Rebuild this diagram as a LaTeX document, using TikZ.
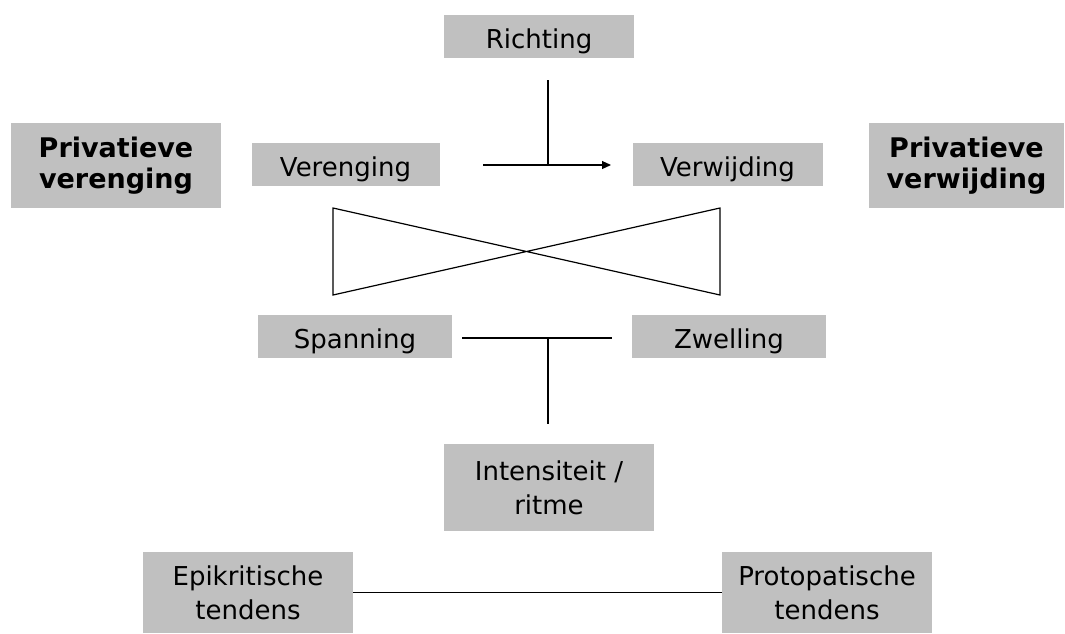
\documentclass[tikz,border=0pt]{standalone}
\usepackage{fontspec}
\setmainfont{DejaVu Sans}
\usetikzlibrary{arrows.meta}
% single-line labels sit a little below the box centre
\newcommand{\lowlabel}[1]{\raisebox{-5pt}[\height][\depth]{#1}}
\begin{document}
\begin{tikzpicture}[x=1pt,y=-1pt,
  greybox/.style={fill=boxgrey, draw=none, inner sep=0pt, align=center,
    font=\fontsize{26}{34}\selectfont},
  boldbox/.style={greybox, font=\fontsize{27}{31}\selectfont\bfseries},
  link/.style={line width=1.2pt, black}]
\definecolor{boxgrey}{HTML}{C0C0C0}
\useasboundingbox (0,0) rectangle (1065,633);

% category boxes
\node[greybox, minimum width=190pt, minimum height=43pt] (richting) at (539,36.5) {\lowlabel{Richting}};
\node[boldbox, minimum width=210pt, minimum height=85pt] (pvereng) at (116,165.5) {Privatieve\\verenging};
\node[greybox, minimum width=188pt, minimum height=43pt] (vereng) at (345.5,164.5) {\lowlabel{Verenging}};
\node[greybox, minimum width=190pt, minimum height=43pt] (verwijd) at (727.5,164.5) {\lowlabel{Verwijding}};
\node[boldbox, minimum width=195pt, minimum height=85pt] (pverwijd) at (966.5,165.5) {Privatieve\\verwijding};
\node[greybox, minimum width=194pt, minimum height=43pt] (spanning) at (355,336.5) {\lowlabel{Spanning}};
\node[greybox, minimum width=194pt, minimum height=43pt] (zwelling) at (729,336.5) {\lowlabel{Zwelling}};
\node[greybox, minimum width=210pt, minimum height=87pt] (intens) at (549,487.5) {Intensiteit /\\ritme};
\node[greybox, minimum width=210pt, minimum height=81pt] (epi) at (248,592.5) {Epikritische\\tendens};
\node[greybox, minimum width=210pt, minimum height=81pt] (proto) at (827,592.5) {Protopatische\\tendens};

% direction: T with arrow
\coordinate (rtop) at (548,80);
\coordinate (rfoot) at (548,165);
\coordinate (astart) at (483,165);
\coordinate (aend) at (611,165);
\draw[link] (rtop) -- (rfoot);
\draw[link, -{Triangle[length=9pt,width=8pt]}] (astart) -- (aend);

% bow tie between the two rows
\coordinate (bl) at (333,208);
\coordinate (br) at (720,295);
\coordinate (tl) at (333,295);
\coordinate (tr) at (720,208);
\draw[link, line join=miter] (bl) -- (br) -- (tr) -- (tl) -- cycle;

% intensity: T without arrow
\coordinate (sl) at (462,338);
\coordinate (sr) at (612,338);
\coordinate (smid) at (548,338);
\coordinate (sfoot) at (548,424);
\draw[link] (sl) -- (sr);
\draw[link] (smid) -- (sfoot);

% bottom axis
\draw[link] (epi.east) -- (proto.west);
\end{tikzpicture}
\end{document}
